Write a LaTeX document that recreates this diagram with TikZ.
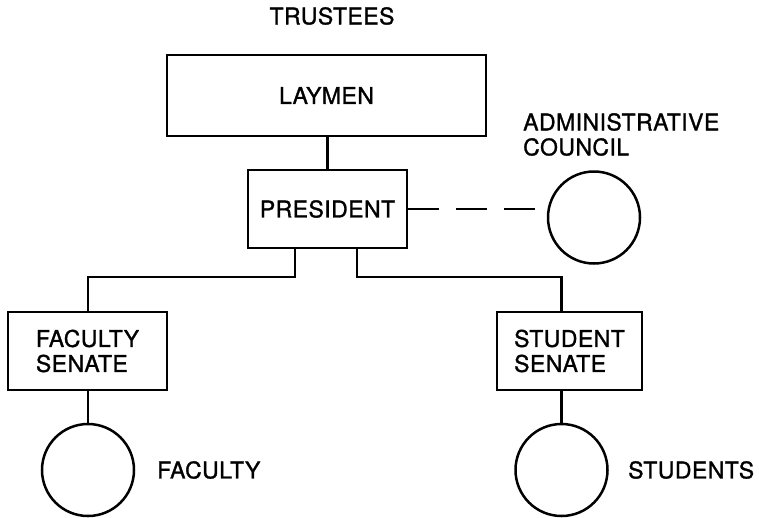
\documentclass[tikz,border=0pt]{standalone}
\usepackage{fontspec}
\setmainfont{TeX Gyre Heros}[FakeBold=1.2, LetterSpace=2]
\begin{document}
\begin{tikzpicture}[x=1pt,y=-1pt,
  every node/.style={font=\fontsize{23}{25}\selectfont, inner sep=0pt},
  box/.style={draw, line width=2.5pt, align=left},
  member/.style={draw, circle, line width=2.5pt, minimum size=92pt},
  link/.style={line width=2.5pt},
  tag/.style={anchor=west}
]
\useasboundingbox (0,0) rectangle (759,517);

% governing board and administration
\node (trustees) at (332,16) {TRUSTEES};
\node[box, minimum width=319pt, minimum height=81pt] (laymen) at (326.5,95.5) {LAYMEN};
\node[box, minimum width=159pt, minimum height=78pt] (pres) at (327.5,209) {PRESIDENT};
\node[member] (council) at (594,217.5) {};
\node[anchor=north west, align=left] (councillabel) at (523,113) {ADMINISTRATIVE\\COUNCIL};

% senates and their constituencies
\node[box, minimum width=159pt, minimum height=78pt] (fsen) at (87.5,351) {FACULTY\\SENATE};
\node[box, minimum width=145pt, minimum height=78pt] (ssen) at (569.5,351) {STUDENT\\SENATE};
\node[member] (fcirc) at (88,470) {};
\node[member] (scirc) at (561.5,470) {};
\node[tag] (faclabel) at (157,470) {FACULTY};
\node[tag] (stulabel) at (628,470) {STUDENTS};

% connectors
\coordinate (bus) at (0,277);
\draw[link] (pres.north |- laymen.south) -- (pres.north);
\draw[link, dash pattern=on 31pt off 17pt] (pres.east) -- (pres.east -| council.west);
\draw[link] ([xshift=-32.5pt]pres.south) |- (bus -| fcirc) -- (fsen.north -| fcirc);
\draw[link] ([xshift=29.5pt]pres.south) |- (bus -| scirc) -- (ssen.north -| scirc);
\draw[link] (fsen.south -| fcirc) -- (fcirc.north);
\draw[link] (ssen.south -| scirc) -- (scirc.north);
\end{tikzpicture}
\end{document}
